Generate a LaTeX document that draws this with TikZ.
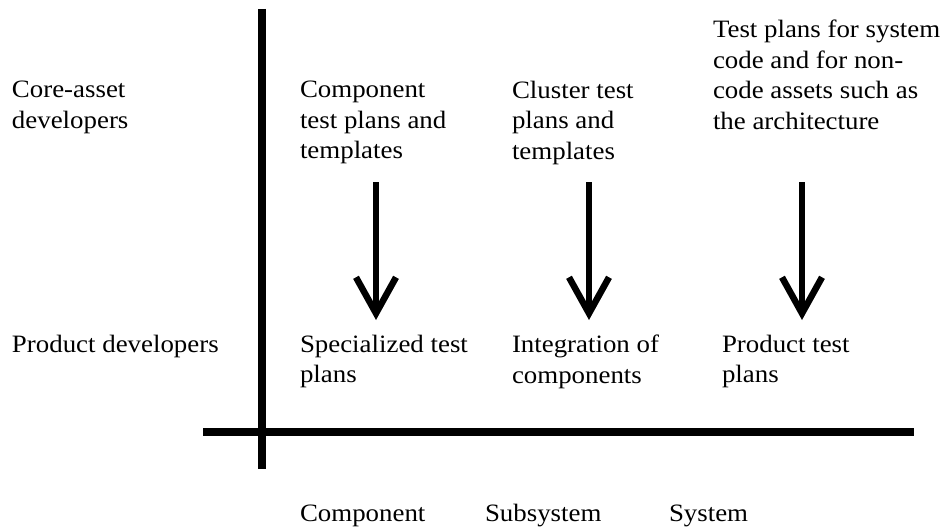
\documentclass[tikz,border=0pt]{standalone}
\usepackage{fontspec}
\setmainfont{Liberation Serif}[FakeStretch=1.075]
\usetikzlibrary{arrows.meta}
\begin{document}
\begin{tikzpicture}[x=1pt,y=-1pt,
  lbl/.style={font=\fontsize{25}{30.5}\selectfont, inner sep=0pt, outer sep=0pt, align=left, anchor=north west},
  lblb/.style={font=\fontsize{25}{30.5}\selectfont, inner sep=0pt, outer sep=0pt, anchor=base west},
  axisline/.style={line width=8pt},
  downarrow/.style={line width=6.5pt, -{Straight Barb[length=36pt,width=40pt,line width=6.5pt]}}]
\useasboundingbox (0,0) rectangle (951,527);
% axes
\coordinate (vtop) at (261.5,9);
\coordinate (vbot) at (261.5,469);
\coordinate (hl) at (203,431.5);
\coordinate (hr) at (914,431.5);
\draw[axisline] (vtop) -- (vbot);
\draw[axisline] (hl) -- (hr);
% row labels
\node[lbl] (core) at (12,81) {Core-asset\\developers};
\node[lblb] (prod) at (12,352) {Product developers};
% top texts
\node[lbl] (ctp) at (300,81) {Component\\test plans and\\templates};
\node[lbl] (cltp) at (512,81) {Cluster test\\plans and\\templates};
\node[lbl] (stp) at (713,20) {Test plans for system\\code and for non-\\code assets such as\\the architecture};
% bottom texts
\node[lbl] (spec) at (300,335) {Specialized test\\plans};
\node[lbl] (integ) at (512,335) {Integration of\\components};
\node[lbl] (ptp) at (722,335) {Product test\\plans};
% column labels
\node[lblb] (colc) at (300,521) {Component};
\node[lblb] (cols) at (485,521) {Subsystem};
\node[lblb] (colsy) at (669,521) {System};
% arrows
\coordinate (a1s) at (376,182);
\coordinate (a1e) at (376,320);
\coordinate (a2s) at (589,182);
\coordinate (a2e) at (589,320);
\coordinate (a3s) at (802,182);
\coordinate (a3e) at (802,320);
\draw[downarrow] (a1s) -- (a1e);
\draw[downarrow] (a2s) -- (a2e);
\draw[downarrow] (a3s) -- (a3e);
\end{tikzpicture}
\end{document}
